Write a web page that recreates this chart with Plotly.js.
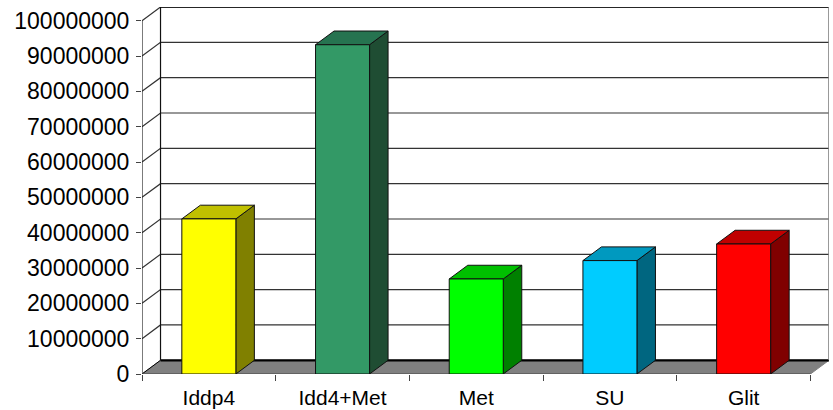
<!DOCTYPE html>
<html>
<head>
<meta charset="utf-8">
<script src="https://cdn.plot.ly/plotly-3.0.1.min.js"></script>
<style>
html, body { margin: 0; padding: 0; background: #fff; }
#chart { width: 833px; height: 410px; }
</style>
</head>
<body>
<div id="chart"></div>
<script>
// Column heights per treatment
const categories = ['Iddp4', 'Idd4+Met', 'Met', 'SU', 'Glit'];
const values = [43900000, 93200000, 26900000, 32100000, 36800000];
const frontColors = ['#ffff00', '#339966', '#00ff00', '#00ccff', '#ff0000'];
const topColors = ['#c0c000', '#267350', '#00c000', '#0099bf', '#c00000'];
const sideColors = ['#808000', '#1f4d33', '#008000', '#006680', '#800000'];
const yTicks = [0, 10000000, 20000000, 30000000, 40000000, 50000000, 60000000, 70000000, 80000000, 90000000, 100000000];

// Oblique projection of the box depth, in axis units
const depthX = 0.1385;
const depthY = 3880000;
const barWidth = 0.404;
const xMin = -0.5;
const xMax = categories.length - 0.5;
const yMax = yTicks[yTicks.length - 1];
const outline = '#111';

function poly(xs, ys, fill, lineColor, lineWidth) {
  return {
    type: 'scatter', mode: 'lines', x: xs, y: ys, fill: 'toself', fillcolor: fill,
    line: { color: lineColor, width: lineWidth }, hoverinfo: 'skip', showlegend: false
  };
}
function path(xs, ys, color, width) {
  return {
    type: 'scatter', mode: 'lines', x: xs, y: ys,
    line: { color: color, width: width }, hoverinfo: 'skip', showlegend: false
  };
}

const traces = [];

// Wall gridlines, each running along the side wall and then the back wall
yTicks.slice(1).forEach(v => {
  traces.push(path([xMin, xMin + depthX, xMax + depthX], [v, v + depthY, v + depthY], '#333', 1.2));
});

// Floor and the frame of the walls
traces.push(poly([xMin, xMax, xMax + depthX, xMin + depthX, xMin], [0, 0, depthY, depthY, 0], '#808080', '#808080', 1));
traces.push(path([xMin + depthX, xMax + depthX], [depthY, depthY], '#000', 2.2));
traces.push(path([xMin, xMin + depthX], [0, depthY], '#000', 1));
traces.push(path([xMin, xMin], [0, yMax], '#222', 1.2));
traces.push(path([xMin + depthX, xMin + depthX], [depthY, yMax + depthY], '#111', 1.2));
traces.push(path([xMin + depthX, xMax + depthX], [yMax + depthY, yMax + depthY], '#000', 1.4));
traces.push(path([xMax + depthX, xMax + depthX], [depthY, yMax + depthY], '#808080', 1.6));
traces.push(path([xMin, xMax], [0, 0], '#444', 1));

// Top and side faces of every column
categories.forEach((c, i) => {
  const l = i - barWidth / 2, r = i + barWidth / 2, v = values[i];
  traces.push(poly([r, r + depthX, r + depthX, r, r], [0, depthY, v + depthY, v, 0], sideColors[i], outline, 1));
  traces.push(poly([l, r, r + depthX, l + depthX, l], [v, v, v + depthY, v + depthY, v], topColors[i], outline, 1));
});

// Front faces, on an overlaid pair of axes so they sit above the faces drawn as polygons
traces.push({
  type: 'bar', x: categories.map((c, i) => i), y: values, width: barWidth,
  xaxis: 'x2', yaxis: 'y2',
  marker: { color: frontColors, line: { color: outline, width: 1 } },
  hoverinfo: 'skip', showlegend: false
});

const boundaries = categories.map((c, i) => i - 0.5).concat([xMax]);
const labelFont = { family: '"Liberation Sans", Arial, sans-serif', color: '#000' };

const layout = {
  width: 833, height: 410,
  margin: { l: 142, r: 4, t: 7.3, b: 36, pad: 0 },
  paper_bgcolor: '#fff', plot_bgcolor: '#fff',
  showlegend: false, barmode: 'overlay',
  xaxis: {
    range: [xMin, xMax + depthX], zeroline: false, showgrid: false, showline: false,
    tickmode: 'array', tickvals: categories.map((c, i) => i), ticktext: categories,
    ticks: '', ticklabelstandoff: 9, tickfont: Object.assign({ size: 21 }, labelFont),
    minor: { tickmode: 'array', tickvals: boundaries, ticks: 'outside', ticklen: 6, tickcolor: '#444', tickwidth: 1, showgrid: false }
  },
  yaxis: {
    range: [0, yMax + depthY], zeroline: false, showgrid: false, showline: false,
    tickmode: 'array', tickvals: yTicks, ticktext: yTicks.map(String),
    ticks: 'outside', ticklen: 5, tickcolor: '#444', tickwidth: 1,
    ticklabelstandoff: 2,
    tickfont: Object.assign({ size: 23 }, labelFont)
  },
  xaxis2: { overlaying: 'x', matches: 'x', visible: false, range: [xMin, xMax + depthX] },
  yaxis2: { overlaying: 'y', matches: 'y', visible: false, range: [0, yMax + depthY] }
};

Plotly.newPlot('chart', traces, layout, { displayModeBar: false, staticPlot: true });
</script>
</body>
</html>
